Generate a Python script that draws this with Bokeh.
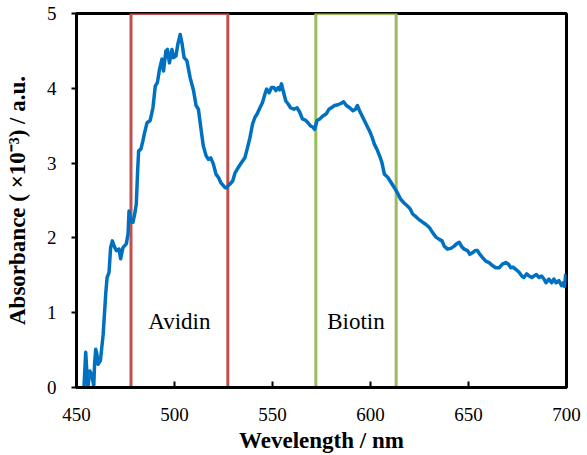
from bokeh.core.properties import value
from bokeh.embed import file_html
from bokeh.models import ColumnDataSource, FixedTicker, Range1d
from bokeh.plotting import figure
from bokeh.resources import INLINE

# Absorbance spectrum (x10^-3 a.u.) versus wavelength (nm)
wavelength = [
    453.0, 453.8, 454.7, 455.3, 455.8, 456.8, 457.5, 458.1, 458.8, 459.2,
    459.8, 460.4, 461.0, 462.2, 463.6, 464.9, 465.6, 466.6, 467.4, 468.3,
    469.2, 470.3, 471.7, 472.5, 473.7, 475.4, 476.3, 476.8, 477.6, 478.8,
    479.7, 480.5, 481.2, 481.7, 482.9, 483.9, 484.6, 486.0, 487.6, 489.0,
    490.2, 491.3, 492.4, 493.6, 494.4, 495.6, 496.4, 497.4, 498.7, 499.5,
    500.7, 501.7, 502.9, 503.9, 504.9, 506.3, 508.0, 509.7, 511.0, 512.2,
    513.4, 514.7, 516.1, 517.3, 518.5, 519.8, 521.2, 522.4, 523.6, 524.9,
    525.8, 526.6, 527.5, 528.3, 529.7, 530.9, 532.5, 534.3, 535.9, 537.1,
    538.5, 539.8, 541.0, 542.2, 543.6, 544.9, 546.1, 547.0, 548.3, 549.5,
    550.7, 551.7, 552.9, 553.7, 554.6, 555.4, 556.8, 558.0, 559.2, 560.9,
    562.5, 563.9, 565.3, 567.0, 568.1, 569.3, 570.7, 571.5, 572.7, 574.1,
    575.7, 577.5, 578.8, 580.0, 581.7, 583.4, 585.1, 586.3, 587.7, 589.4,
    591.0, 592.3, 593.3, 594.4, 596.1, 597.8, 599.5, 600.9, 602.0, 603.2,
    604.6, 605.8, 607.1, 608.8, 610.5, 612.2, 613.6, 615.3, 617.0, 618.7,
    620.2, 621.5, 623.3, 625.0, 626.6, 628.3, 630.0, 631.7, 633.4, 635.1,
    636.5, 637.6, 639.3, 641.0, 642.7, 643.9, 645.3, 646.6, 647.8, 649.5,
    650.7, 652.0, 653.4, 654.6, 655.8, 657.1, 658.8, 660.5, 662.2, 663.9,
    665.6, 667.3, 669.0, 670.3, 671.6, 672.7, 674.1, 675.8, 677.2, 678.3,
    679.7, 680.9, 682.3, 683.4, 684.6, 686.0, 687.3, 688.5, 689.6, 691.0,
    692.4, 693.6, 694.7, 696.1, 697.5, 698.3, 699.0, 699.6,
]
absorbance = [
    0.00, 0.00, 0.47, 0.20, 0.00, 0.22, 0.18, 0.13, 0.02, 0.30,
    0.51, 0.45, 0.31, 0.36, 0.71, 1.25, 1.47, 1.54, 1.87, 1.96,
    1.89, 1.83, 1.85, 1.72, 1.87, 1.92, 2.05, 2.36, 2.23, 2.21,
    2.32, 2.45, 2.90, 3.16, 3.19, 3.30, 3.39, 3.54, 3.57, 3.74,
    4.03, 4.08, 4.26, 4.39, 4.23, 4.50, 4.52, 4.34, 4.52, 4.41,
    4.43, 4.59, 4.72, 4.59, 4.41, 4.37, 4.14, 3.97, 3.77, 3.72,
    3.48, 3.23, 3.10, 3.05, 3.07, 2.99, 2.85, 2.81, 2.74, 2.70,
    2.67, 2.67, 2.70, 2.72, 2.76, 2.87, 2.94, 3.01, 3.07, 3.19,
    3.34, 3.52, 3.61, 3.66, 3.74, 3.81, 3.92, 3.99, 3.94, 4.01,
    4.01, 3.97, 4.01, 3.98, 4.06, 3.97, 3.83, 3.79, 3.74, 3.72,
    3.74, 3.68, 3.59, 3.57, 3.54, 3.50, 3.48, 3.45, 3.57, 3.59,
    3.63, 3.66, 3.72, 3.74, 3.77, 3.78, 3.80, 3.82, 3.77, 3.74,
    3.70, 3.72, 3.77, 3.70, 3.61, 3.52, 3.43, 3.34, 3.25, 3.19,
    3.10, 3.01, 2.85, 2.81, 2.74, 2.67, 2.61, 2.52, 2.47, 2.43,
    2.39, 2.32, 2.28, 2.24, 2.21, 2.18, 2.14, 2.07, 2.01, 1.98,
    1.96, 1.89, 1.85, 1.86, 1.89, 1.92, 1.94, 1.88, 1.85, 1.83,
    1.78, 1.80, 1.83, 1.83, 1.78, 1.74, 1.69, 1.67, 1.63, 1.60,
    1.60, 1.65, 1.67, 1.65, 1.60, 1.61, 1.58, 1.54, 1.49, 1.47,
    1.52, 1.49, 1.47, 1.49, 1.51, 1.47, 1.49, 1.45, 1.40, 1.45,
    1.40, 1.45, 1.40, 1.43, 1.36, 1.40, 1.35, 1.52,
]

# Highlighted bands
band_names = ["Avidin", "Biotin"]
band_start = [477.8, 572.1]
band_end = [527.2, 613.1]
band_colors = ["#c0504d", "#9bbb59"]
band_label_y = [0.88, 0.88]

x_ticks = [450, 500, 550, 600, 650, 700]
y_ticks = [0, 1, 2, 3, 4, 5]

SERIF = "Liberation Serif"

p = figure(
    width=587, height=455,
    x_range=Range1d(450, 700), y_range=Range1d(0, 5),
    output_backend="svg", toolbar_location=None,
    min_border_left=76, min_border_right=21,
    min_border_top=13, min_border_bottom=68,
    background_fill_color="white", border_fill_color="white",
)
p.grid.visible = False
p.outline_line_color = "black"
p.outline_line_width = 3

for ax in (p.xaxis[0], p.yaxis[0]):
    ax.axis_line_color = "black"
    ax.axis_line_width = 3
    ax.major_tick_line_color = "black"
    ax.major_tick_line_width = 2
    ax.minor_tick_line_color = None
    ax.major_label_text_font = SERIF
    ax.major_label_text_font_size = "19px"
    ax.major_label_text_color = "black"
    ax.axis_label_text_font = SERIF
    ax.axis_label_text_font_size = "23px"
    ax.axis_label_text_font_style = "bold"
    ax.axis_label_text_color = "black"

p.xaxis.ticker = FixedTicker(ticks=x_ticks)
p.yaxis.ticker = FixedTicker(ticks=y_ticks)
p.xaxis.major_tick_in = 6
p.xaxis.major_tick_out = 0
p.xaxis.major_label_standoff = 20
p.yaxis.major_tick_in = 0
p.yaxis.major_tick_out = 5
p.yaxis.major_label_standoff = 15

p.xaxis.axis_label = "Wevelength / nm"
p.xaxis.axis_label_standoff = 4
p.yaxis.axis_label = "Absorbance ( ×10⁻³) / a.u."
p.yaxis.axis_label_standoff = 14

bands = ColumnDataSource(dict(
    left=band_start, right=band_end,
    bottom=[y_ticks[0]] * 2, top=[y_ticks[-1]] * 2,
    color=band_colors, name=band_names,
    cx=[(a + b) / 2 for a, b in zip(band_start, band_end)],
    ly=band_label_y,
))
p.quad(left="left", right="right", bottom="bottom", top="top", source=bands,
       fill_color=None, line_color="color", line_width=3)
p.text(x="cx", y="ly", text="name", source=bands,
       text_font=value(SERIF), text_font_size="23px", text_color="black",
       text_align="center", text_baseline="alphabetic")

p.line(wavelength, absorbance, line_color="#0070c0", line_width=3.5,
       line_join="round")

open("out.html", "w").write(file_html(p, INLINE))
